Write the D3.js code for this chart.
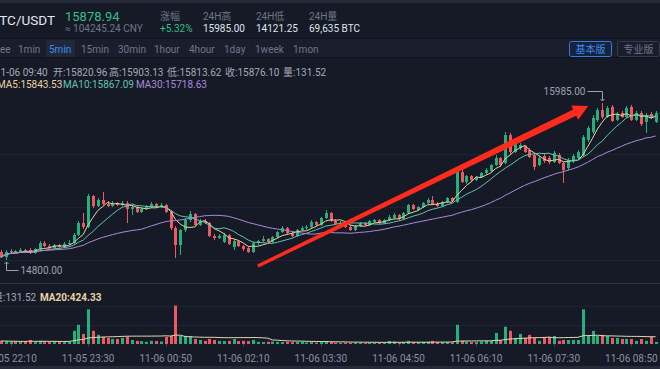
<!DOCTYPE html>
<html>
<head>
<meta charset="utf-8">
<script src="https://cdn.jsdelivr.net/npm/d3@7"></script>
<style>
  body { margin: 0; background: #161a27; overflow: hidden; }
  svg { display: block; font-family: Roboto, "Noto Sans CJK SC", sans-serif; }
</style>
</head>
<body>
<svg id="chart"></svg>
<script>
var width = 660;
var height = 369;

// 5 minute candles, first one at 11-05 22:00
var startTime = "11-05 22:00";
var stepMinutes = 5;

var openPrices = [
  14860,14822,14860,14868,14860,14875,14875,14853,14883,14928,
  14905,14890,14913,14898,14921,14928,14989,15079,15049,15283,
  15207,15253,15223,15207,15230,15215,15230,15185,15200,15162,
  15185,15200,15223,15200,15215,15162,15041,14913,15026,15102,
  15147,15064,15094,15079,14981,14966,14936,14989,14898,14943,
  14905,14890,14860,14928,14943,14958,14936,14973,15011,15041,
  15004,14981,15026,15041,15049,15087,15064,15117,15155,15094,
  15056,15079,15049,15026,15056,15079,15064,15087,15102,15079,
  15102,15117,15140,15109,15155,15215,15177,15200,15230,15253,
  15223,15207,15238,15268,15238,15464,15389,15434,15404,15426,
  15457,15472,15517,15570,15532,15743,15615,15645,15660,15630,
  15592,15517,15585,15570,15540,15592,15532,15494,15540,15570,
  15592,15706,15766,15857,15932,15879,15955,15857,15910,15879,
  15955,15857,15910,15842,15902,15842
];
var highPrices = [
  14875,14875,14883,14875,14890,14883,14890,14890,14943,14943,
  14921,14921,14921,14936,14951,15004,15094,15155,15298,15290,
  15268,15313,15245,15245,15238,15245,15245,15215,15207,15200,
  15215,15238,15230,15230,15223,15177,15056,15034,15117,15170,
  15155,15109,15109,15087,14996,14996,15004,14996,14958,14951,
  14913,14898,14936,14951,14981,14966,14981,15019,15056,15049,
  15011,15034,15056,15064,15102,15094,15124,15177,15162,15109,
  15094,15087,15064,15064,15087,15087,15102,15109,15109,15109,
  15140,15155,15147,15162,15223,15223,15207,15238,15268,15283,
  15238,15245,15275,15275,15487,15494,15441,15441,15434,15464,
  15494,15524,15592,15577,15766,15759,15698,15683,15668,15645,
  15608,15585,15600,15585,15623,15608,15540,15570,15600,15630,
  15743,15811,15894,15947,15985,15962,15970,15917,15925,15962,
  15970,15925,15925,15910,15917,15925
];
var lowPrices = [
  14815,14800,14845,14853,14853,14860,14845,14845,14875,14898,
  14883,14883,14890,14890,14913,14921,14981,15034,15041,15192,
  15200,15215,15200,15200,15207,15207,15079,15140,15155,15155,
  15177,15192,15192,15192,15155,15026,14815,14838,15011,15087,
  15056,15056,15072,14973,14951,14958,14928,14913,14875,14898,
  14868,14853,14853,14913,14936,14928,14928,14966,15004,14996,
  14973,14973,15019,15026,15041,15056,15056,15109,15087,15064,
  15049,15041,15019,15019,15049,15056,15056,15079,15072,15072,
  15094,15109,15102,15102,15147,15177,15170,15192,15223,15215,
  15200,15200,15230,15238,15230,15381,15374,15389,15396,15419,
  15449,15464,15509,15502,15524,15600,15608,15630,15608,15570,
  15479,15509,15532,15524,15532,15524,15381,15479,15532,15562,
  15577,15691,15751,15842,15864,15872,15842,15849,15872,15872,
  15849,15849,15811,15759,15864,15834
];
var closePrices = [
  14822,14860,14868,14860,14875,14868,14853,14883,14928,14905,
  14890,14913,14898,14921,14928,14989,15079,15049,15283,15207,
  15253,15223,15207,15230,15215,15230,15185,15200,15162,15185,
  15200,15223,15200,15215,15162,15041,14913,15026,15102,15147,
  15064,15094,15079,14981,14966,14981,14989,14921,14943,14905,
  14883,14860,14928,14943,14958,14936,14973,15011,15041,15004,
  14981,15026,15041,15049,15087,15064,15117,15155,15094,15072,
  15079,15049,15026,15056,15079,15064,15094,15102,15079,15102,
  15124,15140,15109,15155,15215,15185,15200,15230,15253,15223,
  15207,15238,15268,15245,15479,15389,15434,15404,15426,15457,
  15479,15517,15570,15517,15743,15615,15683,15668,15615,15577,
  15502,15570,15547,15540,15608,15532,15479,15555,15585,15615,
  15728,15796,15872,15932,15879,15947,15849,15902,15879,15947,
  15857,15910,15826,15894,15872,15910
];
var volumes = [
  158,150,125,130,120,110,210,105,165,135,
  110,130,105,115,130,685,1000,525,1800,685,
  475,370,315,265,260,320,370,210,160,150,
  115,165,155,130,370,420,2000,425,420,415,
  260,210,165,265,210,160,155,165,260,155,
  165,150,210,110,105,115,130,110,105,115,
  100,105,110,80,105,75,100,155,110,80,
  65,75,60,70,75,55,80,70,65,85,
  155,130,90,105,165,100,90,110,120,160,
  105,95,100,85,1000,165,130,105,100,130,
  160,165,575,210,900,685,315,525,315,475,
  320,165,315,370,420,165,210,210,210,210,
  1800,420,685,420,475,420,315,315,265,265,
  260,165,260,165,370,105
];

var tickLabels = ["11-05 22:10","11-05 23:30","11-06 00:50","11-06 02:10","11-06 03:30",
                  "11-06 04:50","11-06 06:10","11-06 07:30","11-06 08:50"];
var intervals = ["1min","5min","15min","30min","1hour","4hour","1day","1week","1mon"];
var gridPrices = [15600, 15200, 14800];
var gridVolumes = [1000, 2000];
var maPeriods = [5, 10, 30];
var maColors = ["#e6d3a3", "#63c3ad", "#a98ad9"];

// hand drawn red arrow, in candle index / price terms
var arrowFrom = [53, 14755];
var arrowTo = [121.1, 15962];

var upColor = "#22b07f";
var downColor = "#ee5860";
var grayText = "#6f7788";

var svg = d3.select("#chart").attr("width", width).attr("height", height);

var x = d3.scaleLinear().domain([0, closePrices.length - 1]).range([0.8, 655.6]);
var y = d3.scaleLinear().domain([14800, 15985]).range([260, 103]);
var yVol = d3.scaleLinear().domain([0, 2080]).range([344, 304]);

var parseTime = d3.timeParse("%m-%d %H:%M");
var t0 = parseTime(startTime);
function timeIndex(label) {
    return (parseTime(label) - t0) / (stepMinutes * 60000);
}

var data = closePrices.map(function(c, i) {
    return { i: i, o: openPrices[i], h: highPrices[i], l: lowPrices[i], c: c, v: volumes[i] };
});

function movingAverage(values, n) {
    return values.map(function(v, i) {
        var from = Math.max(0, i - n + 1);
        return d3.mean(values.slice(from, i + 1));
    });
}

// ---- frame ----
svg.append("rect").attr("width", width).attr("height", height).attr("fill", "#161a27");
svg.append("rect").attr("width", width).attr("height", 3).attr("fill", "#262b3a");
svg.append("rect").attr("y", 38).attr("width", width).attr("height", 20).attr("fill", "#1a1e2c");
svg.append("line").attr("x1", 0).attr("x2", width).attr("y1", 38.5).attr("y2", 38.5).attr("stroke", "#10131c");
svg.append("line").attr("x1", 0).attr("x2", width).attr("y1", 57.5).attr("y2", 57.5).attr("stroke", "#10131c");
svg.append("line").attr("x1", 0).attr("x2", width).attr("y1", 283.5).attr("y2", 283.5).attr("stroke", "#2c3140");
svg.append("rect").attr("y", 366).attr("width", width).attr("height", 3).attr("fill", "#262b3a");

// ---- header ----
var header = svg.append("g").attr("font-size", 10);
header.append("text").attr("x", -9).attr("y", 25).attr("font-size", 13.5).attr("fill", "#e4e7ee").text("BTC/USDT");
header.append("text").attr("x", 65).attr("y", 20.5).attr("font-size", 13).attr("fill", "#2fbf8c").text("15878.94");
header.append("text").attr("x", 65).attr("y", 31.5).attr("fill", grayText).text("≈ 104245.24 CNY");

var stats = [
    { x: 160, label: "涨幅", value: "+5.32%", color: "#2fbf8c" },
    { x: 203, label: "24H高", value: "15985.00", color: "#dfe3ea" },
    { x: 256, label: "24H低", value: "14121.25", color: "#dfe3ea" },
    { x: 309, label: "24H量", value: "69,635 BTC", color: "#dfe3ea" }
];
stats.forEach(function(s) {
    header.append("text").attr("x", s.x).attr("y", 19.5).attr("fill", grayText).text(s.label);
    header.append("text").attr("x", s.x).attr("y", 31.5).attr("fill", s.color).text(s.value);
});

// ---- toolbar ----
var toolbar = svg.append("g").attr("font-size", 10);
toolbar.append("rect").attr("x", 46).attr("y", 40).attr("width", 29).attr("height", 17).attr("fill", "#232839");
toolbar.append("text").attr("x", 0).attr("y", 52.5).attr("fill", grayText).text("ee");
var intervalX = [18, 49, 81, 118, 154, 189, 224, 255, 293];
intervals.forEach(function(name, i) {
    toolbar.append("text").attr("x", intervalX[i]).attr("y", 52.5)
        .attr("fill", name === "5min" ? "#3b8cf2" : grayText).text(name);
});
toolbar.append("rect").attr("x", 569.5).attr("y", 41.5).attr("width", 42).attr("height", 15).attr("rx", 2)
    .attr("fill", "#18233b").attr("stroke", "#2f7fe0");
toolbar.append("text").attr("x", 590.5).attr("y", 52.5).attr("text-anchor", "middle").attr("fill", "#3b8cf2").text("基本版");
toolbar.append("rect").attr("x", 617.5).attr("y", 41.5).attr("width", 42).attr("height", 15).attr("rx", 2)
    .attr("fill", "none").attr("stroke", "#363b4b");
toolbar.append("text").attr("x", 638.5).attr("y", 52.5).attr("text-anchor", "middle").attr("fill", grayText).text("专业版");

// ---- info lines ----
var info = svg.append("g").attr("font-size", 10);
var infoParts = [
    { x: -5, text: "11-06 09:40" }, { x: 53, text: "开:15820.96" }, { x: 109, text: "高:15903.13" },
    { x: 167, text: "低:15813.62" }, { x: 225, text: "收:15876.10" }, { x: 283, text: "量:131.52" }
];
infoParts.forEach(function(p) {
    info.append("text").attr("x", p.x).attr("y", 75.5).attr("fill", "#a3a9b6").text(p.text);
});
var maTexts = [{ x: -3, text: "MA5:15843.53" }, { x: 63, text: "MA10:15867.09" }, { x: 136, text: "MA30:15718.63" }];
maTexts.forEach(function(p, i) {
    info.append("text").attr("x", p.x).attr("y", 87.5).attr("fill", maColors[i]).text(p.text);
});

// ---- grid ----
svg.append("g").selectAll("line").data(gridPrices).enter().append("line")
    .attr("x1", 0).attr("x2", width)
    .attr("y1", function(d) { return Math.round(y(d)) + 0.5; })
    .attr("y2", function(d) { return Math.round(y(d)) + 0.5; })
    .attr("stroke", "#1f2433");
svg.append("g").selectAll("line").data(gridVolumes).enter().append("line")
    .attr("x1", 0).attr("x2", width)
    .attr("y1", function(d) { return Math.round(yVol(d)) + 0.5; })
    .attr("y2", function(d) { return Math.round(yVol(d)) + 0.5; })
    .attr("stroke", "#1f2433");

// ---- candles ----
function cx(d) { return Math.round(x(d.i)); }
function colorOf(d) { return d.c >= d.o ? upColor : downColor; }

var candles = svg.append("g");
candles.selectAll(".wick").data(data).enter().append("line")
    .attr("class", "wick")
    .attr("x1", function(d) { return cx(d) + 0.5; })
    .attr("x2", function(d) { return cx(d) + 0.5; })
    .attr("y1", function(d) { return y(d.h); })
    .attr("y2", function(d) { return y(d.l); })
    .attr("stroke", colorOf);
candles.selectAll(".body").data(data).enter().append("rect")
    .attr("class", "body")
    .attr("x", function(d) { return cx(d) - 1; })
    .attr("width", 3)
    .attr("y", function(d) { return y(Math.max(d.o, d.c)); })
    .attr("height", function(d) { return Math.max(1, Math.abs(y(d.o) - y(d.c))); })
    .attr("fill", colorOf);

// ---- moving averages ----
var priceLine = d3.line()
    .x(function(d, i) { return x(i); })
    .y(function(d) { return y(d); });
maPeriods.forEach(function(n, k) {
    svg.append("path")
        .datum(movingAverage(closePrices, n))
        .attr("d", priceLine)
        .attr("fill", "none")
        .attr("stroke", maColors[k])
        .attr("stroke-width", 1);
});

// ---- high / low markers ----
var hiIdx = d3.maxIndex(highPrices);
var loIdx = d3.minIndex(lowPrices);
var hx = cx(data[hiIdx]) + 0.5, hy = y(highPrices[hiIdx]);
var marks = svg.append("g").attr("fill", "none").attr("stroke", "#9ba1ae");
marks.append("path").attr("d", "M" + (hx - 15) + "," + (hy - 11.5) + "H" + hx + "V" + (hy - 2));
marks.append("path").attr("d", "M" + (hx - 2) + "," + (hy - 4) + "L" + hx + "," + (hy - 2) + "L" + (hx + 2) + "," + (hy - 4));
svg.append("text").attr("x", hx - 17).attr("y", hy - 8).attr("text-anchor", "end")
    .attr("font-size", 10).attr("fill", "#9ba1ae").text(d3.format(".2f")(highPrices[hiIdx]));

var lx = cx(data[loIdx]) + 0.5, ly = y(lowPrices[loIdx]);
marks.append("path").attr("d", "M" + lx + "," + (ly + 2) + "V" + (ly + 10.5) + "H" + (lx + 12));
marks.append("path").attr("d", "M" + (lx - 2) + "," + (ly + 4) + "L" + lx + "," + (ly + 2) + "L" + (lx + 2) + "," + (ly + 4));
svg.append("text").attr("x", lx + 14).attr("y", ly + 14)
    .attr("font-size", 10).attr("fill", "#9ba1ae").text(d3.format(".2f")(lowPrices[loIdx]));

// ---- red annotation arrow ----
var p0 = [x(arrowFrom[0]), y(arrowFrom[1])];
var p1 = [x(arrowTo[0]), y(arrowTo[1])];
var len = Math.hypot(p1[0] - p0[0], p1[1] - p0[1]);
var ux = (p1[0] - p0[0]) / len, uy = (p1[1] - p0[1]) / len;
var nx = -uy, ny = ux;
var headLen = 15, headHalf = 8;
var s = [p1[0] - ux * headLen, p1[1] - uy * headLen];
function pt(base, w) { return [base[0] + nx * w, base[1] + ny * w]; }
svg.append("path")
    .attr("d", d3.line()([pt(p0, 1.6), pt(s, 3.4), pt(s, headHalf), p1, pt(s, -headHalf), pt(s, -3.4), pt(p0, -1.6)]) + "Z")
    .attr("fill", "#ff2b1c");

// ---- volume ----
var vol = svg.append("g");
vol.selectAll("rect").data(data).enter().append("rect")
    .attr("x", function(d) { return cx(d) - 1; })
    .attr("width", 3)
    .attr("y", function(d) { return yVol(d.v); })
    .attr("height", function(d) { return yVol(0) - yVol(d.v); })
    .attr("fill", colorOf);
svg.append("path")
    .datum(movingAverage(volumes, 20))
    .attr("d", d3.line().x(function(d, i) { return x(i); }).y(function(d) { return yVol(d); }))
    .attr("fill", "none")
    .attr("stroke", "#e2d6b4")
    .attr("stroke-width", 1);

svg.append("text").attr("x", -7).attr("y", 300.5).attr("font-size", 10).attr("fill", "#a3a9b6").text("量:131.52");
svg.append("text").attr("x", 40).attr("y", 300.5).attr("font-size", 10).attr("font-weight", "bold")
    .attr("fill", "#e6d3a3").text("MA20:424.33");

// ---- time axis ----
var axis = svg.append("g");
axis.selectAll("line").data(tickLabels).enter().append("line")
    .attr("x1", function(d) { return Math.round(x(timeIndex(d))) + 0.5; })
    .attr("x2", function(d) { return Math.round(x(timeIndex(d))) + 0.5; })
    .attr("y1", 344).attr("y2", 347)
    .attr("stroke", "#3a4050");
axis.selectAll("text").data(tickLabels).enter().append("text")
    .attr("x", function(d) { return x(timeIndex(d)); })
    .attr("y", 361.5)
    .attr("text-anchor", "middle")
    .attr("font-size", 10)
    .attr("fill", "#8a90a0")
    .text(function(d) { return d; });
</script>
</body>
</html>
